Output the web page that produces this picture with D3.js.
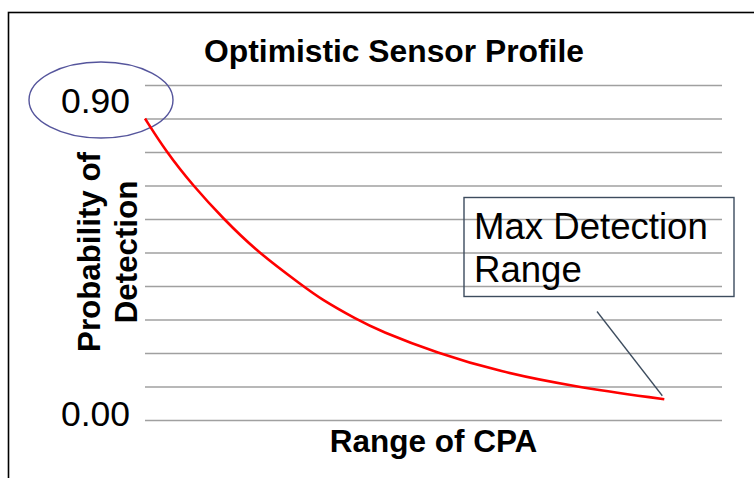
<!DOCTYPE html>
<html>
<head>
<meta charset="utf-8">
<script src="https://cdn.jsdelivr.net/npm/d3@7"></script>
<style>
  html, body { margin: 0; padding: 0; background: #fff; }
  svg { display: block; font-family: "Liberation Sans", Arial, sans-serif; }
</style>
</head>
<body>
<svg id="chart" width="754" height="478"></svg>
<script>
// Range of CPA (arbitrary units) and probability of detection along the sensor curve
const cpaRange = [0, 0.37, 0.83, 1.36, 1.96, 2.74, 3.03, 3.67, 4.07, 5.06, 6.15, 7.42, 9.0];
const detectionProb = [0.90, 0.80, 0.70, 0.60, 0.50, 0.40, 0.363, 0.30, 0.266, 0.20, 0.144, 0.10, 0.062];
// Horizontal gridlines every 0.1
const gridTicks = d3.range(0, 11).map(i => i / 10);
// Annotated probability values at the ends of the curve
const markedLabels = ["0.90", "0.00"];
const markedValues = [0.90, 0.00];

const svg = d3.select("#chart");
const plot = { left: 145, right: 722, top: 85, bottom: 420 };

const x = d3.scaleLinear().domain([0, 10]).range([plot.left, plot.right]);
const y = d3.scaleLinear().domain([0, 1]).range([plot.bottom, plot.top]);

// Outer frame
svg.append("rect")
  .attr("x", 8.5).attr("y", 12.5)
  .attr("width", 800).attr("height", 600)
  .attr("fill", "none").attr("stroke", "#000").attr("stroke-width", 1.6);

// Gridlines
const gy = svg.append("g")
  .attr("transform", `translate(${plot.left},0)`)
  .call(d3.axisLeft(y).tickValues(gridTicks)
    .tickSize(-(plot.right - plot.left)).tickFormat(""));
gy.select(".domain").remove();
gy.selectAll(".tick line").attr("stroke", "#a0a0a0").attr("stroke-width", 1.4);

// Title
svg.append("text")
  .attr("x", 394).attr("y", 61.5)
  .attr("text-anchor", "middle")
  .attr("font-size", 31.8).attr("font-weight", "bold")
  .text("Optimistic Sensor Profile");

// Axis titles
svg.append("text")
  .attr("x", 433.5).attr("y", 451.5)
  .attr("text-anchor", "middle")
  .attr("font-size", 31.5).attr("font-weight", "bold")
  .text("Range of CPA");

const yTitle = svg.append("text")
  .attr("transform", "translate(0,252) rotate(-90)")
  .attr("text-anchor", "middle")
  .attr("font-size", 31.3).attr("font-weight", "bold");
yTitle.append("tspan").attr("x", 0).attr("y", 100).text("Probability of");
yTitle.append("tspan").attr("x", 0).attr("y", 136.5).text("Detection");

// Value labels at the top and bottom of the curve
const labelOffsets = [-5.5, 5.5];
svg.selectAll("text.pval")
  .data(markedLabels)
  .join("text")
  .attr("class", "pval")
  .attr("x", 95.5).attr("y", (d, i) => y(markedValues[i]) + labelOffsets[i])
  .attr("text-anchor", "middle")
  .attr("font-size", 35.5)
  .text(d => d);

// Ellipse highlighting the 0.90 value
svg.append("ellipse")
  .attr("cx", 101).attr("cy", y(markedValues[0]) - 18.5)
  .attr("rx", 72).attr("ry", 38)
  .attr("fill", "none").attr("stroke", "#55559c").attr("stroke-width", 1.4);

// Detection curve
const pts = cpaRange.map((r, i) => [r, detectionProb[i]]);
svg.append("path")
  .datum(pts)
  .attr("fill", "none")
  .attr("stroke", "#ff0000")
  .attr("stroke-width", 2.6)
  .attr("d", d3.line().x(d => x(d[0])).y(d => y(d[1])).curve(d3.curveBasis));

// Callout box for the maximum detection range
const last = pts[pts.length - 1];
svg.append("rect")
  .attr("x", 464).attr("y", 197.5)
  .attr("width", 270).attr("height", 99)
  .attr("fill", "none").attr("stroke", "#3d4c5e").attr("stroke-width", 1.4);
const callout = svg.append("text").attr("font-size", 36.6);
callout.append("tspan").attr("x", 474).attr("y", 238.5).text("Max Detection");
callout.append("tspan").attr("x", 474).attr("y", 281.5).text("Range");

svg.append("line")
  .attr("x1", 597).attr("y1", 311.5)
  .attr("x2", x(last[0]) - 2).attr("y2", y(last[1]) - 3.5)
  .attr("stroke", "#3d4c5e").attr("stroke-width", 1.3);
</script>
</body>
</html>
